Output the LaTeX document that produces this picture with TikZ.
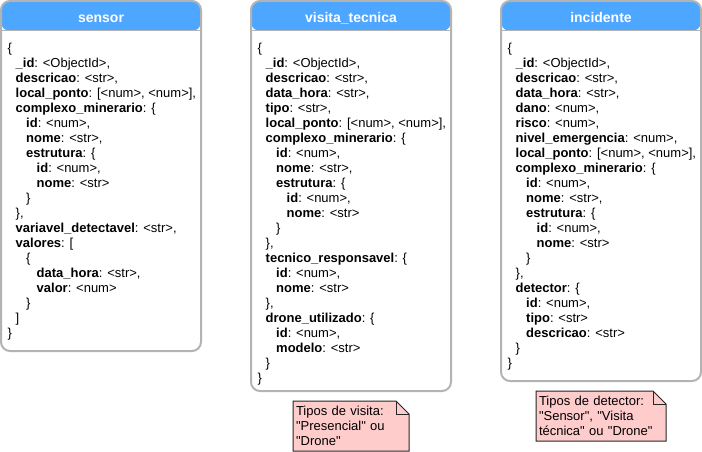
\documentclass[tikz,border=0pt]{standalone}
\usepackage{fontspec}
\setmainfont{Liberation Sans}
\usetikzlibrary{positioning,backgrounds}
\definecolor{hdrblue}{HTML}{4DA6FF}
\definecolor{boxgray}{HTML}{B3B3B3}
\definecolor{memopink}{HTML}{FFCCCC}
\newcommand{\fld}[1]{\textbf{#1}}
\newcommand{\qt}[1]{\textquotedbl#1\textquotedbl}
\newcommand{\indA}{\hspace*{8pt}}
\newcommand{\indB}{\hspace*{18.5pt}}
\newcommand{\indC}{\hspace*{29pt}}
\begin{document}
\begin{tikzpicture}[x=1pt, y=-1pt, line join=round,
	tbl/.style={draw=boxgray, line width=2pt, rounded corners=9pt, minimum width=200pt, inner sep=0pt, outer sep=0pt, anchor=north west,
		path picture={\fill[hdrblue] (path picture bounding box.north west) rectangle ([yshift=-30pt]path picture bounding box.north east);
			\draw[boxgray, line width=1pt] ([yshift=-30pt]path picture bounding box.north west) -- ([yshift=-30pt]path picture bounding box.north east);}},
	ttl/.style={anchor=base, inner sep=0pt, text=white, font=\fontsize{14}{16}\selectfont\bfseries},
	fields/.style={anchor=north west, inner sep=0pt, align=left, font=\fontsize{13}{15}\selectfont},
	memo/.style={below=10pt of #1, minimum height=50pt, inner xsep=3pt, inner ysep=0pt, outer sep=0pt, align=left, font=\fontsize{13}{15}\selectfont},
	memoline/.style={fill=memopink, draw=black!85, line width=1pt}]
	\useasboundingbox (0,0) rectangle (702,452);
	% tabelas
	\node[tbl, minimum height=350pt] (sensor) at (1,1) {};
	\node[tbl, minimum height=390pt] (visita) at (251,1) {};
	\node[tbl, minimum height=380pt] (incidente) at (501,1) {};
	\node[ttl] (sensorTtl) at ([yshift=-21.5pt]sensor.north) {sensor};
	\node[ttl] (visitaTtl) at ([yshift=-21.5pt]visita.north) {visita\_tecnica};
	\node[ttl] (incidenteTtl) at ([yshift=-21.5pt]incidente.north) {incidente};
	% campos
	\node[fields] (sensorBody) at ([xshift=6.5pt, yshift=-41.5pt]sensor.north west) {
		\{\\
		\indA\fld{\_id}: <ObjectId>,\\
		\indA\fld{descricao}: <str>,\\
		\indA\fld{local\_ponto}: [<num>, <num>],\\
		\indA\fld{complexo\_minerario}: \{\\
		\indB\fld{id}: <num>,\\
		\indB\fld{nome}: <str>,\\
		\indB\fld{estrutura}: \{\\
		\indC\fld{id}: <num>,\\
		\indC\fld{nome}: <str>\\
		\indB\}\\
		\indA\},\\
		\indA\fld{variavel\_detectavel}: <str>,\\
		\indA\fld{valores}: {[}\\
		\indB\{\\
		\indC\fld{data\_hora}: <str>,\\
		\indC\fld{valor}: <num>\\
		\indB\}\\
		\indA{]}\\
		\}};
	\node[fields] (visitaBody) at ([xshift=6.5pt, yshift=-41.5pt]visita.north west) {
		\{\\
		\indA\fld{\_id}: <ObjectId>,\\
		\indA\fld{descricao}: <str>,\\
		\indA\fld{data\_hora}: <str>,\\
		\indA\fld{tipo}: <str>,\\
		\indA\fld{local\_ponto}: [<num>, <num>],\\
		\indA\fld{complexo\_minerario}: \{\\
		\indB\fld{id}: <num>,\\
		\indB\fld{nome}: <str>,\\
		\indB\fld{estrutura}: \{\\
		\indC\fld{id}: <num>,\\
		\indC\fld{nome}: <str>\\
		\indB\}\\
		\indA\},\\
		\indA\fld{tecnico\_responsavel}: \{\\
		\indB\fld{id}: <num>,\\
		\indB\fld{nome}: <str>\\
		\indA\},\\
		\indA\fld{drone\_utilizado}: \{\\
		\indB\fld{id}: <num>,\\
		\indB\fld{modelo}: <str>\\
		\indA\}\\
		\}};
	\node[fields] (incidenteBody) at ([xshift=6.5pt, yshift=-41.5pt]incidente.north west) {
		\{\\
		\indA\fld{\_id}: <ObjectId>,\\
		\indA\fld{descricao}: <str>,\\
		\indA\fld{data\_hora}: <str>,\\
		\indA\fld{dano}: <num>,\\
		\indA\fld{risco}: <num>,\\
		\indA\fld{nivel\_emergencia}: <num>,\\
		\indA\fld{local\_ponto}: [<num>, <num>],\\
		\indA\fld{complexo\_minerario}: \{\\
		\indB\fld{id}: <num>,\\
		\indB\fld{nome}: <str>,\\
		\indB\fld{estrutura}: \{\\
		\indC\fld{id}: <num>,\\
		\indC\fld{nome}: <str>\\
		\indB\}\\
		\indA\},\\
		\indA\fld{detector}: \{\\
		\indB\fld{id}: <num>,\\
		\indB\fld{tipo}: <str>\\
		\indB\fld{descricao}: <str>\\
		\indA\}\\
		\}};
	% notas
	\node[memo=visita, minimum width=116pt, text width=110pt] (visitaNota) {Tipos de visita:\\\qt{Presencial} ou\\\qt{Drone}};
	\node[memo=incidente, minimum width=130pt, text width=124pt] (incidenteNota) {Tipos de detector:\\\qt{Sensor}, \qt{Visita\\técnica} ou \qt{Drone}};
	\begin{scope}[on background layer]
		\foreach \n in {visitaNota,incidenteNota} {
			\draw[memoline] (\n.north west) -- ([xshift=-13pt]\n.north east) -- ([yshift=-13pt]\n.north east) -- (\n.south east) -- (\n.south west) -- cycle;
			\draw[memoline, fill=none] ([xshift=-13pt]\n.north east) |- ([yshift=-13pt]\n.north east);
		}
	\end{scope}
\end{tikzpicture}
\end{document}
